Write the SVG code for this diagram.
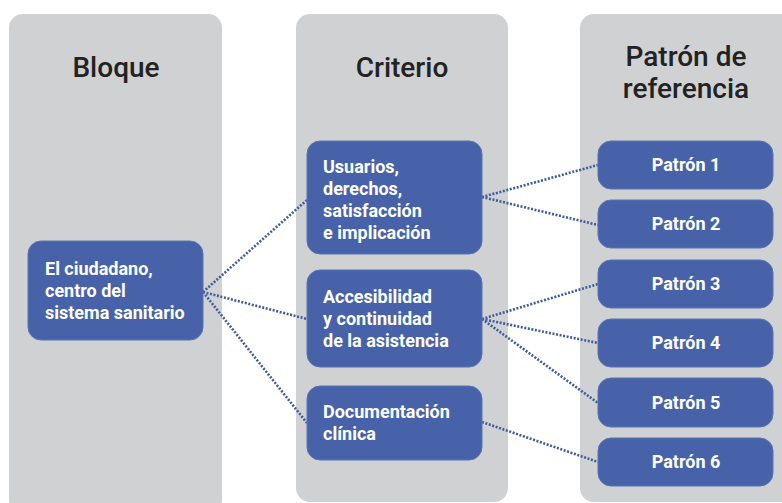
<svg xmlns="http://www.w3.org/2000/svg" width="782" height="503" viewBox="0 0 782 503">
<style>
.panel{fill:#d0d1d3}
.node{fill:#4762a8;stroke:#5a73b3;stroke-width:1}
.hd{font-family:Roboto,"Liberation Sans",sans-serif;font-size:28px;font-weight:500;fill:#222222;text-anchor:middle}
.t{font-family:Roboto,"Liberation Sans",sans-serif;font-size:18px;font-weight:bold;fill:#ffffff}
.tc{font-family:Roboto,"Liberation Sans",sans-serif;font-size:18px;font-weight:bold;fill:#ffffff;text-anchor:middle}
.c{fill:none;stroke:#3f5b9f;stroke-width:2.6;stroke-dasharray:2 1.6}
</style>
<rect width="782" height="503" fill="#ffffff"/>
<g id="panels">
<rect class="panel" x="9" y="14" width="213" height="500" rx="14"/>
<rect class="panel" x="296" y="14" width="212" height="488" rx="14"/>
<rect class="panel" x="580" y="14" width="220" height="488" rx="14"/>
<text class="hd" x="116" y="77">Bloque</text>
<text class="hd" x="402" y="77">Criterio</text>
<text class="hd" x="686" y="66">Patrón de</text>
<text class="hd" x="686" y="98">referencia</text>
</g>
<g id="connectors">
<line class="c" x1="203" y1="292" x2="307" y2="200"/>
<line class="c" x1="203" y1="292" x2="307" y2="319"/>
<line class="c" x1="203" y1="292" x2="307" y2="423"/>
<line class="c" x1="482" y1="197" x2="598" y2="165"/>
<line class="c" x1="482" y1="197" x2="598" y2="225"/>
<line class="c" x1="482" y1="319" x2="598" y2="284"/>
<line class="c" x1="482" y1="319" x2="598" y2="343"/>
<line class="c" x1="482" y1="319" x2="598" y2="403"/>
<line class="c" x1="482" y1="422" x2="598" y2="462"/>
</g>
<g id="n-ciudadano">
<rect class="node" x="28" y="241" width="175" height="99" rx="13"/>
<text class="t" x="45" y="275">El ciudadano,</text>
<text class="t" x="45" y="297">centro del</text>
<text class="t" x="45" y="319">sistema sanitario</text>
</g>
<g id="n-usuarios">
<rect class="node" x="307" y="141" width="175" height="113" rx="13"/>
<text class="t" x="323" y="173">Usuarios,</text>
<text class="t" x="323" y="195">derechos,</text>
<text class="t" x="323" y="217">satisfacción</text>
<text class="t" x="323" y="239">e implicación</text>
</g>
<g id="n-accesibilidad">
<rect class="node" x="307" y="270" width="175" height="97" rx="13"/>
<text class="t" x="323" y="303">Accesibilidad</text>
<text class="t" x="323" y="325">y continuidad</text>
<text class="t" x="323" y="347">de la asistencia</text>
</g>
<g id="n-documentacion">
<rect class="node" x="307" y="386" width="175" height="74" rx="13"/>
<text class="t" x="323" y="418">Documentación</text>
<text class="t" x="323" y="440">clínica</text>
</g>
<g id="n-p1"><rect class="node" x="598" y="141" width="175" height="48" rx="13"/><text class="tc" x="686" y="171">Patrón 1</text></g>
<g id="n-p2"><rect class="node" x="598" y="200" width="175" height="48" rx="13"/><text class="tc" x="686" y="230">Patrón 2</text></g>
<g id="n-p3"><rect class="node" x="598" y="260" width="175" height="48" rx="13"/><text class="tc" x="686" y="290">Patrón 3</text></g>
<g id="n-p4"><rect class="node" x="598" y="319" width="175" height="48" rx="13"/><text class="tc" x="686" y="349">Patrón 4</text></g>
<g id="n-p5"><rect class="node" x="598" y="378" width="175" height="49" rx="13"/><text class="tc" x="686" y="409">Patrón 5</text></g>
<g id="n-p6"><rect class="node" x="598" y="438" width="175" height="48" rx="13"/><text class="tc" x="686" y="468">Patrón 6</text></g>
</svg>
